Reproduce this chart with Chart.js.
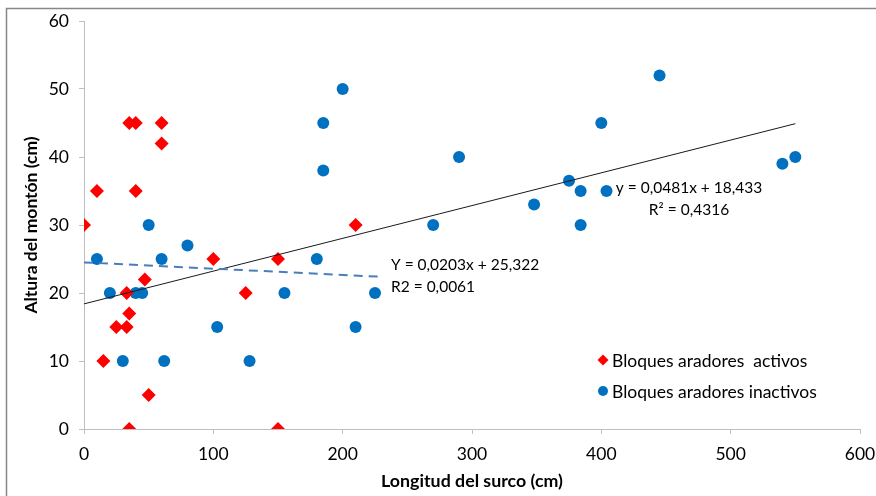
<!DOCTYPE html>
<html>
<head>
<meta charset="utf-8">
<script src="https://cdn.jsdelivr.net/npm/chart.js@4.4.1/dist/chart.umd.min.js"></script>
<style>
  html, body { margin: 0; padding: 0; background: #fff; }
  #wrap { width: 876px; height: 496px; position: relative; }
</style>
</head>
<body>
<div id="wrap"><canvas id="grafico" width="876" height="496"></canvas></div>
<script>
// Datos
const activosX = [0, 10, 35, 40, 60, 60, 40, 15, 25, 33, 35, 33, 47, 50, 35, 100, 125, 150, 150, 210];
const activosY = [30, 35, 45, 45, 45, 42, 35, 10, 15, 15, 17, 20, 22, 5, 0, 25, 20, 25, 0, 30];

const inactivosX = [10, 20, 30, 40, 45, 50, 60, 62, 80, 103, 128, 155, 180, 185, 185, 200, 210, 225, 270, 290, 348, 375, 384, 384, 400, 404, 445, 540, 550];
const inactivosY = [25, 20, 10, 20, 20, 30, 25, 10, 27, 15, 10, 20, 25, 45, 38, 50, 15, 20, 30, 40, 33, 36.5, 35, 30, 45, 35, 52, 39, 40];

// Líneas de tendencia (extremos)
const tendActivosX = [0, 228];
const tendActivosY = [24.5, 22.4];
const tendInactivosX = [0, 550];
const tendInactivosY = [18.4, 44.9];

const etiquetas = ['Bloques aradores  activos', 'Bloques aradores inactivos'];
const ecuacionActivos = ['Y = 0,0203x + 25,322', 'R2 = 0,0061'];
const ecuacionInactivos = ['y = 0,0481x + 18,433', 'R² = 0,4316'];

const FUENTE = 'Lato, "Open Sans", sans-serif';
const GRIS_EJE = '#bfbfbf';

const puntos = (xs, ys) => xs.map((x, i) => ({ x: x, y: ys[i] }));

// Marco exterior, ecuaciones y leyenda
const extras = {
    id: 'extras',
    beforeDraw(chart) {
        const ctx = chart.ctx;
        ctx.save();
        ctx.fillStyle = '#fff';
        ctx.fillRect(0, 0, chart.width, chart.height);
        ctx.strokeStyle = '#878787';
        ctx.lineWidth = 1.5;
        ctx.beginPath();
        ctx.moveTo(6.5, chart.height);
        ctx.lineTo(6.5, 8.5);
        ctx.lineTo(chart.width, 8.5);
        ctx.stroke();
        ctx.restore();
    },
    afterDraw(chart) {
        const ctx = chart.ctx;
        ctx.save();
        ctx.fillStyle = '#000';
        ctx.font = '15.5px ' + FUENTE;
        ctx.textBaseline = 'middle';
        ctx.textAlign = 'left';
        ctx.fillText(ecuacionActivos[0], 391, 265);
        ctx.fillText(ecuacionActivos[1], 391, 287);
        ctx.textAlign = 'center';
        ctx.fillText(ecuacionInactivos[0], 689, 188);
        ctx.fillText(ecuacionInactivos[1], 689, 210);

        // leyenda
        ctx.textAlign = 'left';
        ctx.font = '17.5px ' + FUENTE;
        const filas = [360, 391];
        [0, 1].forEach((i) => {
            const ds = chart.data.datasets[i];
            const y = filas[i];
            ctx.fillStyle = ds.backgroundColor;
            ctx.beginPath();
            if (ds.pointStyle === 'rectRot') {
                ctx.moveTo(603, y - 5.5);
                ctx.lineTo(608.5, y);
                ctx.lineTo(603, y + 5.5);
                ctx.lineTo(597.5, y);
                ctx.closePath();
            } else {
                ctx.arc(603, y, 5, 0, Math.PI * 2);
            }
            ctx.fill();
            ctx.fillStyle = '#000';
            ctx.fillText(ds.label, 612, y + 1);
        });
        ctx.restore();
    }
};

new Chart(document.getElementById('grafico'), {
    type: 'scatter',
    data: {
        datasets: [
            {
                label: etiquetas[0],
                data: puntos(activosX, activosY),
                pointStyle: 'rectRot',
                pointRadius: 7,
                backgroundColor: '#ff0000',
                borderWidth: 0,
                order: 1
            },
            {
                label: etiquetas[1],
                data: puntos(inactivosX, inactivosY),
                pointStyle: 'circle',
                pointRadius: 6,
                backgroundColor: '#0070c0',
                borderWidth: 0,
                order: 2
            },
            {
                type: 'line',
                label: 'tendencia activos',
                data: puntos(tendActivosX, tendActivosY),
                borderColor: '#4a7ebb',
                borderWidth: 2,
                borderDash: [9, 6],
                pointRadius: 0,
                fill: false,
                order: 0
            },
            {
                type: 'line',
                label: 'tendencia inactivos',
                data: puntos(tendInactivosX, tendInactivosY),
                borderColor: '#1a1a1a',
                borderWidth: 1,
                pointRadius: 0,
                fill: false,
                order: 0
            }
        ]
    },
    options: {
        responsive: false,
        animation: false,
        layout: { padding: { left: 21, right: 16, top: 21, bottom: 0 } },
        plugins: {
            legend: { display: false },
            tooltip: { enabled: false }
        },
        scales: {
            x: {
                type: 'linear',
                min: 0,
                max: 600,
                afterFit: (s) => { s.height = 67; s.paddingLeft = 0; s.paddingRight = 0; },
                ticks: { stepSize: 100, color: '#000', font: { family: FUENTE, size: 17.5 }, padding: 10 },
                grid: { drawOnChartArea: false, drawTicks: true, tickLength: 5, color: GRIS_EJE },
                border: { color: GRIS_EJE, width: 1 },
                title: { display: true, text: 'Longitud del surco (cm)', color: '#000', font: { family: FUENTE, size: 17.8, weight: 'bold' }, padding: { top: 0, bottom: 4 } }
            },
            y: {
                min: 0,
                max: 60,
                afterFit: (s) => { s.width = 63; s.paddingTop = 0; s.paddingBottom = 0; },
                ticks: { stepSize: 10, color: '#000', font: { family: FUENTE, size: 17.5 }, padding: 10 },
                grid: { drawOnChartArea: false, drawTicks: true, tickLength: 5, color: GRIS_EJE },
                border: { color: GRIS_EJE, width: 1 },
                title: { display: true, text: 'Altura del montón (cm)', color: '#000', font: { family: FUENTE, size: 17.5, weight: 'bold' }, padding: { top: 0, bottom: 4 } }
            }
        }
    },
    plugins: [extras]
});
</script>
</body>
</html>
